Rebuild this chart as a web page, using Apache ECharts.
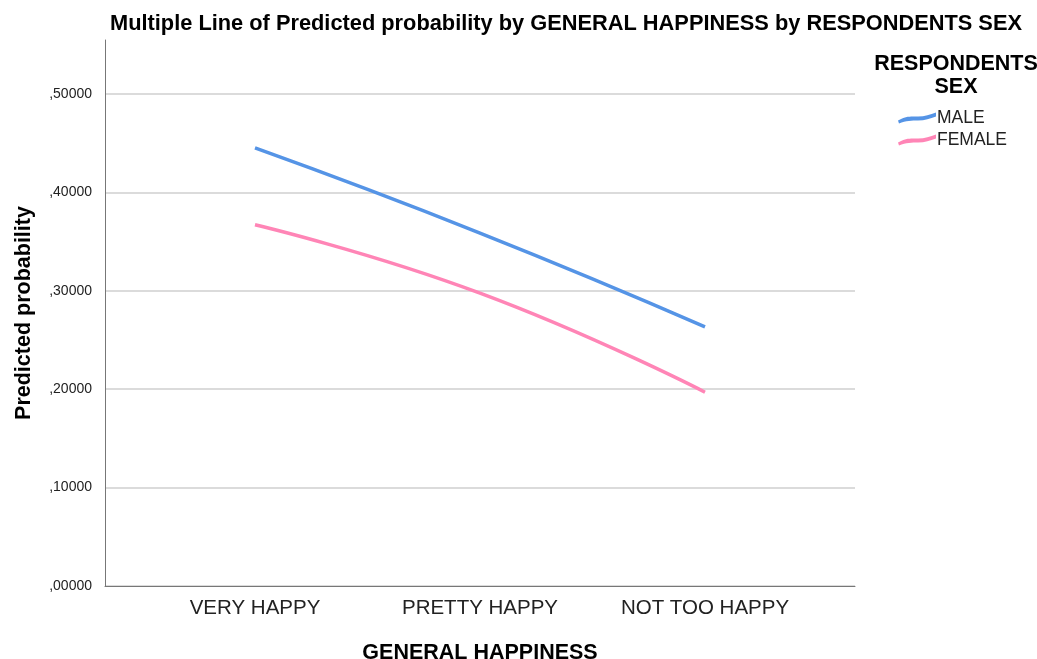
<!DOCTYPE html>
<html>
<head>
<meta charset="utf-8">
<script src="https://cdn.jsdelivr.net/npm/echarts@6/dist/echarts.min.js"></script>
<style>html,body{margin:0;padding:0;background:#fff;}#c{width:1037px;height:659px;}</style>
</head>
<body>
<div id="c"></div>
<script>
const categories = ['VERY HAPPY', 'PRETTY HAPPY', 'NOT TOO HAPPY'];
const seriesNames = ['MALE', 'FEMALE'];
const maleValues = [0.4453, 0.3588, 0.2635];
const femaleValues = [0.3672, 0.2977, 0.1970];
const yTicks = [0, 0.1, 0.2, 0.3, 0.4, 0.5];

const FONT = 'Liberation Sans, Arial, sans-serif';
const chart = echarts.init(document.getElementById('c'));
const fmt = v => {
  for (const t of yTicks) if (Math.abs(v - t) < 1e-9) return v.toFixed(5).replace('0.', ',');
  return '';
};
const option = {
  backgroundColor: '#fff',
  animation: false,
  title: [
    { text: 'Multiple Line of Predicted probability by GENERAL HAPPINESS by RESPONDENTS SEX',
      left: 561, top: 8, textAlign: 'center',
      textStyle: { fontFamily: FONT, fontSize: 21.8, fontWeight: 'bold', color: '#000' } },
    { text: 'RESPONDENTS\nSEX', left: 951, top: 48, textAlign: 'center',
      textStyle: { fontFamily: FONT, fontSize: 21.5, fontWeight: 'bold', color: '#000', lineHeight: 23 } }
  ],
  legend: {
    data: seriesNames, orient: 'vertical', left: 893, top: 104,
    itemWidth: 38, itemHeight: 13, itemGap: 4,
    textStyle: { fontFamily: FONT, fontSize: 17.5, color: '#222', padding: [0, 0, 0, -4] },
    icon: 'path://M0,9 C8,4 14,5 20,5 C27,5 32,3 38,1 L38,5 C32,7 27,9 20,9 C14,9 8,9 1,12 Z'
  },
  grid: [
    { left: 105, right: 182, top: 40, bottom: 73, containLabel: false, outerBoundsMode: 'none' },
    { left: 142.5, right: 219.5, top: 40, bottom: 73, containLabel: false, outerBoundsMode: 'none' }
  ],
  xAxis: [
    { gridIndex: 0, type: 'value', min: 0, max: 1, axisLine: { show: true, onZero: false, lineStyle: { color: '#777', width: 1 } },
      axisTick: { show: false }, axisLabel: { show: false }, splitLine: { show: false } },
    { gridIndex: 1, type: 'category', data: categories, boundaryGap: true,
      axisLine: { show: false }, axisTick: { show: false },
      axisLabel: { fontFamily: FONT, fontSize: 20.5, color: '#222', margin: 12 },
      name: 'GENERAL HAPPINESS', nameLocation: 'middle', nameGap: 56,
      nameTextStyle: { fontFamily: FONT, fontSize: 21.5, fontWeight: 'bold', color: '#000' } }
  ],
  yAxis: [
    { gridIndex: 0, type: 'value', min: 0, max: 0.555, interval: 0.1,
      axisLine: { show: true, lineStyle: { color: '#777', width: 1 } },
      axisTick: { show: false },
      axisLabel: { fontFamily: FONT, fontSize: 14, color: '#222', margin: 13, formatter: fmt, showMaxLabel: false },
      splitLine: { show: true, lineStyle: { color: ['#cfcfcf','#cfcfcf','#cfcfcf','#cfcfcf','#cfcfcf','#cfcfcf','rgba(0,0,0,0)'], width: 1.5 } },
      name: 'Predicted probability', nameLocation: 'middle', nameGap: 70, nameRotate: 90,
      nameTextStyle: { fontFamily: FONT, fontSize: 21.5, fontWeight: 'bold', color: '#000' } },
    { gridIndex: 1, type: 'value', min: 0, max: 0.555, show: false, splitLine: { show: false } }
  ],
  series: [
    { name: 'MALE', type: 'line', xAxisIndex: 1, yAxisIndex: 1, data: maleValues,
      smooth: 0.5, showSymbol: false, symbol: 'none', color: '#5594E6',
      lineStyle: { width: 3.5, color: '#5594E6' } },
    { name: 'FEMALE', type: 'line', xAxisIndex: 1, yAxisIndex: 1, data: femaleValues,
      smooth: 0.5, showSymbol: false, symbol: 'none', color: '#FF85B6',
      lineStyle: { width: 3.5, color: '#FF85B6' } }
  ]
};
chart.setOption(option);
</script>
</body>
</html>
